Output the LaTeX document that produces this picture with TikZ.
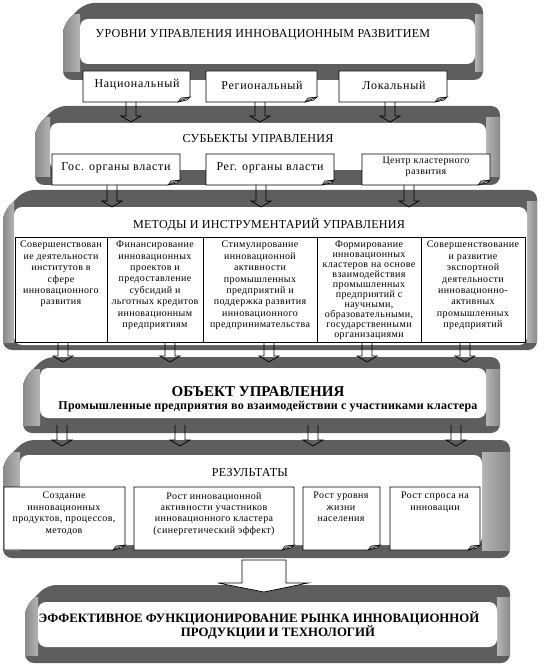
\documentclass[tikz,border=0pt]{standalone}
\usepackage{fontspec}
\setmainfont{Liberation Serif}
\newfontfamily\wideserif[LetterSpace=6]{Liberation Serif}
\newfontfamily\midserif[LetterSpace=4]{Liberation Serif}
\newfontfamily\ttlserif[LetterSpace=2]{Liberation Serif}
\definecolor{pgray}{HTML}{5E5E5E}
\definecolor{bevA}{HTML}{8A8A8A}
\definecolor{bevB}{HTML}{B4B4B4}
\definecolor{foldg}{HTML}{A0A0A0}
\newcommand\plaque[8]{%
  \begin{scope}
    \fill[pgray, rounded corners=9] (#1+22,#2) -- (#3,#2) -- (#3,#4) -- (#1,#4) -- (#1,#2+22) -- cycle;
    \clip[rounded corners=9] (#1+22,#2) -- (#3,#2) -- (#3,#4) -- (#1,#4) -- (#1,#2+22) -- cycle;
    \shade[left color=bevA, right color=bevB] (#1,#2+12) rectangle (#5,#4-8);
    \shade[left color=bevB, right color=bevA] (#7,#2+12) rectangle (#3,#4-8);
  \end{scope}
  \fill[white, rounded corners=8] (#5,#6) rectangle (#7,#8);
}
\newcommand\foldbox[4]{%
  \draw[fill=white, line width=0.7pt] (#1,#2) -- (#3,#2) -- (#3,#4-5) -- (#3-3,#4-2) -- (#3-12,#4) -- (#1,#4) -- cycle;
  \filldraw[fill=foldg, line width=0.5pt] (#3,#4-5) -- (#3-12,#4) -- (#3-9,#4-4) -- cycle;
}
\newcommand\barrow[3]{% cx ytop ytip
  \draw[line width=0.7pt] (#1-5,#2) -- (#1-5,#3-6) -- (#1-10,#3-6) -- (#1,#3) -- (#1+10,#3-6) -- (#1+5,#3-6) -- (#1+5,#2);
}
\tikzset{
  ttl/.style={font=\ttlserif\fontsize{12.1}{14}\selectfont, inner sep=0pt},
  lbl/.style={font=\wideserif\fontsize{12}{13}\selectfont, inner sep=0pt, align=center},
  small/.style={font=\midserif\fontsize{10}{11.4}\selectfont, inner sep=0pt, align=center},
}
\begin{document}
\begin{tikzpicture}[x=1pt,y=-1pt]
\useasboundingbox (0,0) rectangle (554,668);
% ---- panel 1
\plaque{63}{3}{483}{80}{80}{19}{475}{64}
\node[ttl] (t1) at (263,35) {УРОВНИ УПРАВЛЕНИЯ ИННОВАЦИОННЫМ РАЗВИТИЕМ};
% ---- panel 2
\plaque{35}{106}{500}{185}{50}{123}{486}{170}
\node[ttl] (t2) at (258,139) {СУБЬЕКТЫ УПРАВЛЕНИЯ};
% row 1 boxes
\foldbox{83}{71}{190}{102}
\foldbox{206}{71}{317}{102}
\foldbox{339}{71}{447}{102}
\node[lbl] (nat) at (137,85) {Национальный};
\node[lbl] (reg) at (262,85) {Региональный};
\node[lbl] (loc) at (394,85) {Локальный};
\barrow{131}{102}{122}
\barrow{260}{102}{122}
\barrow{390}{102}{122}
% ---- panel 3
\plaque{3}{190}{537}{350}{14}{207}{527}{345}
\node[ttl] (t3) at (269,225) {МЕТОДЫ И ИНСТРУМЕНТАРИЙ УПРАВЛЕНИЯ};
% row 2 boxes
\foldbox{52}{154}{180}{185}
\foldbox{206}{154}{334}{185}
\foldbox{362}{154}{490}{185}
\node[lbl] (gos) at (116,168) {Гос. органы власти};
\node[lbl] (rego) at (270,168) {Рег. органы власти};
\node[small] (centr) at (426,167) {Центр кластерного\\развития};
\barrow{112}{185}{207}
\barrow{261}{185}{207}
\barrow{409}{185}{207}
% table
\draw[fill=white, line width=0.7pt] (15,237) rectangle (525,342);
\foreach \x in {107,203,317,421} \draw[line width=0.7pt] (\x,237) -- (\x,342);
\node[small, anchor=north] (m1) at (61,241) {Совершенствован\\ие деятельности\\институтов в\\сфере\\инновационного\\развития};
\node[small, anchor=north] (m2) at (155,241) {Финансирование\\инновационных\\проектов и\\предоставление\\субсидий и\\льготных кредитов\\инновационным\\предприятиям};
\node[small, anchor=north] (m3) at (260,241) {Стимулирование\\инновационной\\активности\\промышленных\\предприятий и\\поддержка развития\\инновационного\\предпринимательства};
\node[small, anchor=north, font=\midserif\fontsize{10}{10}\selectfont] (m4) at (369,241) {Формирование\\инновационных\\кластеров на основе\\взаимодействия\\промышленных\\предприятий с\\научными,\\образовательными,\\государственными\\организациями};
\node[small, anchor=north] (m5) at (473,241) {Совершенствование\\и развитие\\экспортной\\деятельности\\инновационно-\\активных\\промышленных\\предприятий};
% ---- panel 4
\plaque{23}{357}{500}{433}{40}{368}{486}{418}
\node[font=\fontsize{15}{16}\bfseries, inner sep=0pt] (obj) at (258,392) {ОБЪЕКТ УПРАВЛЕНИЯ};
\node[font=\ttlserif\fontsize{12}{13}\bfseries, inner sep=0pt] (objs) at (268,407) {Промышленные предприятия во взаимодействии с участниками кластера};
\foreach \x in {63,170,269,367,465} \barrow{\x}{342}{362};
% ---- panel 5
\plaque{3}{440}{510}{558}{20}{455}{482}{545}
\foreach \x in {62,180,313,456} \barrow{\x}{425}{446};
\node[ttl] (t5) at (250,473) {РЕЗУЛЬТАТЫ};
\foldbox{4}{487}{125}{550}
\foldbox{134}{487}{294}{550}
\foldbox{303}{487}{380}{550}
\foldbox{390}{487}{480}{550}
\node[small, anchor=north] (r1) at (64,492) {Создание\\инновационных\\продуктов, процессов,\\методов};
\node[small, anchor=north] (r2) at (214,492) {Рост инновационной\\активности участников\\инновационного кластера\\(синергетический эффект)};
\node[small, anchor=north] (r3) at (341,492) {Рост уровня\\жизни\\населения};
\node[small, anchor=north] (r4) at (435,492) {Рост спроса на\\инновации};
% ---- panel 6
\plaque{25}{585}{510}{663}{38}{602}{497}{647}
\node[font=\fontsize{12.8}{14}\bfseries, inner sep=0pt] (fin1) at (259,618) {ЭФФЕКТИВНОЕ ФУНКЦИОНИРОВАНИЕ РЫНКА ИННОВАЦИОННОЙ};
\node[font=\fontsize{12.8}{14}\bfseries, inner sep=0pt] (fin2) at (278,632) {ПРОДУКЦИИ И ТЕХНОЛОГИЙ};
% big arrow
\draw[fill=white, line width=0.7pt] (242,560) -- (286,560) -- (286,583) -- (308,583) -- (264,592) -- (218,583) -- (242,583) -- cycle;
\end{tikzpicture}
\end{document}
